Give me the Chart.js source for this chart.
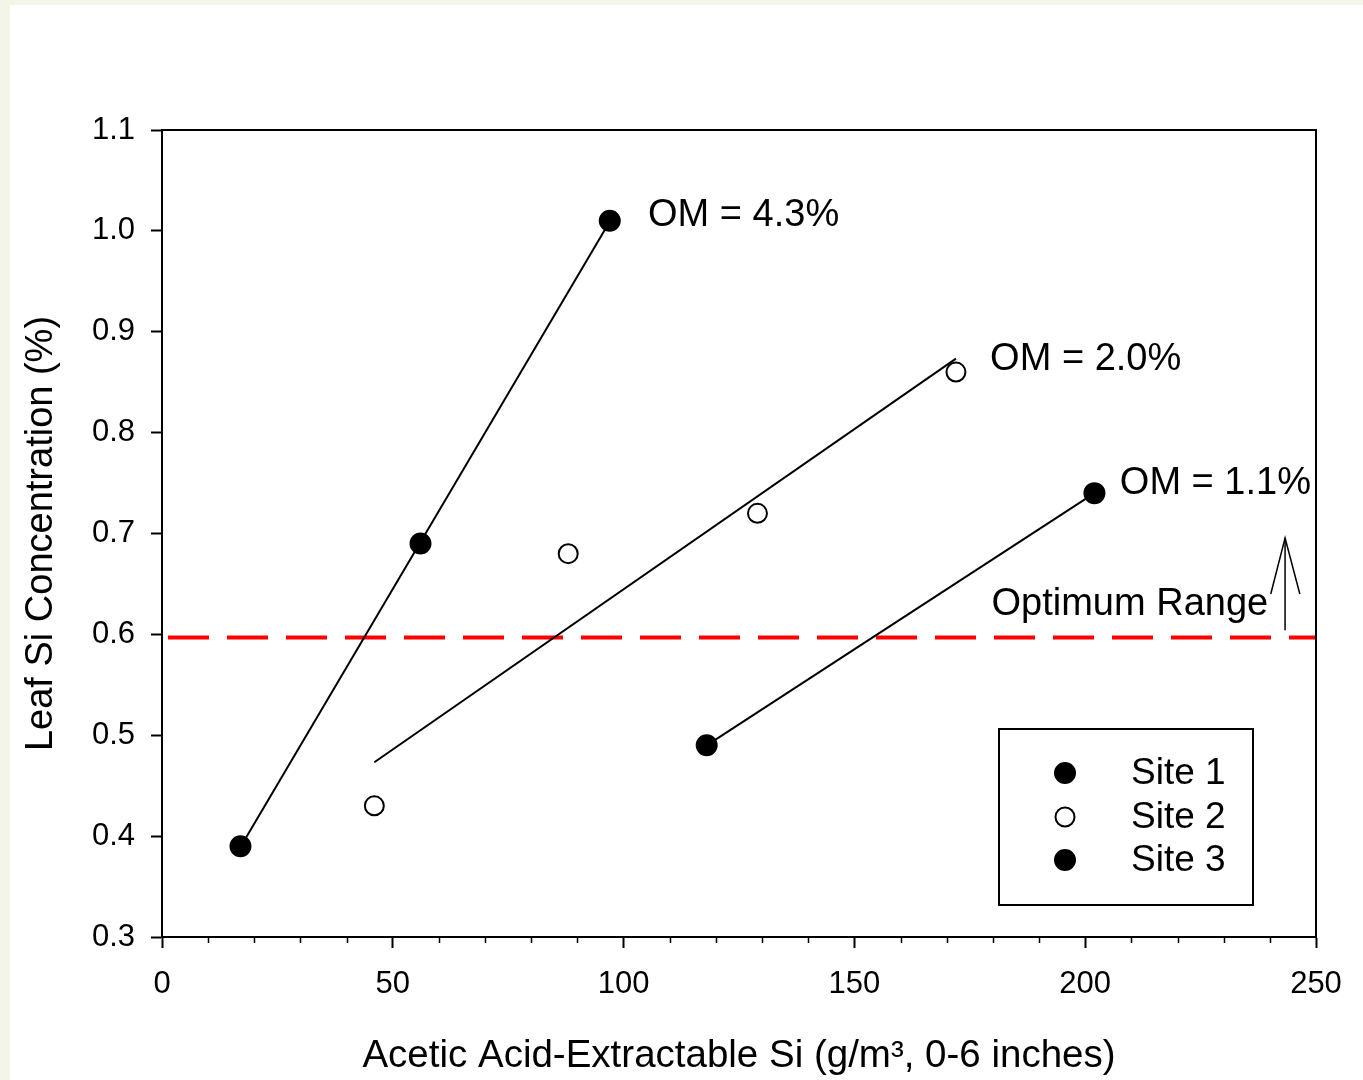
<!DOCTYPE html>
<html>
<head>
<meta charset="utf-8">
<script src="https://cdn.jsdelivr.net/npm/chart.js@4.4.1/dist/chart.umd.min.js"></script>
<style>
  html, body { margin: 0; padding: 0; background: #f2f5e8; }
  #wrap { width: 1363px; height: 1080px; position: relative; }
</style>
</head>
<body>
<div id="wrap"><canvas id="siChart"></canvas></div>
<script>
// acetic acid-extractable Si (g/m3) and leaf Si (%) per site
const site1X = [17, 56, 97];
const site1Y = [0.39, 0.69, 1.01];
const site2X = [46, 88, 129, 172];
const site2Y = [0.43, 0.68, 0.72, 0.86];
const site3X = [118, 202];
const site3Y = [0.49, 0.74];

const siteLabels = ['Site 1', 'Site 2', 'Site 3'];
const omLabels = ['OM = 4.3%', 'OM = 2.0%', 'OM = 1.1%'];

// optimum leaf Si level and the arrow pointing up from it
const optimumY = 0.597;
const optimumX = [1.3, 250];
const arrowX = [243.3, 243.3];
const arrowY = [0.604, 0.6955];
const arrowHeadX = [240.2, 243.3, 246.5];
const arrowHeadY = [0.640, 0.6955, 0.640];

const xTicks = [0, 50, 100, 150, 200, 250];
const yTicks = [0.3, 0.4, 0.5, 0.6, 0.7, 0.8, 0.9, 1.0, 1.1];

function pts(xs, ys) {
  return xs.map((x, i) => ({x: x, y: ys[i]}));
}

// least squares line over the range of the points
function fitLine(xs, ys) {
  const n = xs.length;
  const mx = xs.reduce((a, b) => a + b, 0) / n;
  const my = ys.reduce((a, b) => a + b, 0) / n;
  let sxy = 0, sxx = 0;
  for (let i = 0; i < n; i++) {
    sxy += (xs[i] - mx) * (ys[i] - my);
    sxx += (xs[i] - mx) * (xs[i] - mx);
  }
  const b = sxy / sxx;
  const x0 = Math.min(...xs), x1 = Math.max(...xs);
  return [{x: x0, y: my + b * (x0 - mx)}, {x: x1, y: my + b * (x1 - mx)}];
}

const FONT = '"Liberation Sans", Arial, sans-serif';

function lineSet(data, color, width, dash) {
  return {
    data: data, showLine: true, borderColor: color, borderWidth: width,
    borderDash: dash || [], pointRadius: 0, pointHoverRadius: 0, fill: false
  };
}

function pointSet(label, data, fill, radius) {
  return {
    label: label, data: data, showLine: false,
    backgroundColor: fill, borderColor: '#000', borderWidth: 2,
    pointRadius: radius, pointHoverRadius: radius
  };
}

const pagePlugin = {
  id: 'page',
  beforeDraw(chart) {
    const ctx = chart.ctx;
    ctx.save();
    ctx.fillStyle = '#f2f5e8';
    ctx.fillRect(0, 0, chart.width, chart.height);
    ctx.fillStyle = '#ffffff';
    ctx.fillRect(10, 5, chart.width - 10, chart.height - 5);
    ctx.restore();
  }
};

const extrasPlugin = {
  id: 'extras',
  afterDraw(chart) {
    const ctx = chart.ctx;
    const a = chart.chartArea;
    const xs = chart.scales.x, ys = chart.scales.y;
    ctx.save();
    // frame
    ctx.strokeStyle = '#000';
    ctx.lineWidth = 2;
    ctx.strokeRect(a.left, a.top, a.right - a.left, a.bottom - a.top);
    // minor x ticks
    ctx.lineWidth = 1.5;
    for (let v = 10; v < 250; v += 10) {
      if (v % 50 === 0) continue;
      const px = Math.round(xs.getPixelForValue(v)) + 0.5;
      ctx.beginPath();
      ctx.moveTo(px, a.bottom);
      ctx.lineTo(px, a.bottom + 6);
      ctx.stroke();
    }
    // annotations
    ctx.fillStyle = '#000';
    ctx.font = '38px ' + FONT;
    ctx.textBaseline = 'middle';
    ctx.textAlign = 'left';
    const notes = [
      [omLabels[0], 105.3, 1.0152],
      [omLabels[1], 179.4, 0.8725],
      [omLabels[2], 207.5, 0.750],
      ['Optimum Range', 179.7, 0.6296]
    ];
    notes.forEach(n => {
      ctx.fillText(n[0], xs.getPixelForValue(n[1]), ys.getPixelForValue(n[2]));
    });
    // legend
    const bx = 999, by = 729, bw = 254, bh = 176;
    ctx.lineWidth = 2;
    ctx.strokeRect(bx, by, bw, bh);
    ctx.font = '37px ' + FONT;
    const rows = [774, 818, 861];
    siteLabels.forEach((lab, i) => {
      const ds = chart.data.datasets[i];
      ctx.beginPath();
      ctx.arc(1065, rows[i] - 1, ds.pointRadius, 0, Math.PI * 2);
      ctx.fillStyle = ds.backgroundColor;
      ctx.fill();
      ctx.lineWidth = 2;
      ctx.strokeStyle = '#000';
      ctx.stroke();
      ctx.fillStyle = '#000';
      ctx.fillText(lab, 1131, rows[i]);
    });
    ctx.restore();
  }
};

new Chart(document.getElementById('siChart'), {
  type: 'scatter',
  data: {
    datasets: [
      pointSet(siteLabels[0], pts(site1X, site1Y), '#000', 10),
      pointSet(siteLabels[1], pts(site2X, site2Y), '#fff', 9.5),
      pointSet(siteLabels[2], pts(site3X, site3Y), '#000', 10),
      lineSet(fitLine(site1X, site1Y), '#000', 2),
      lineSet(fitLine(site2X, site2Y), '#000', 2),
      lineSet(fitLine(site3X, site3Y), '#000', 2),
      lineSet(pts(optimumX, optimumX.map(() => optimumY)), '#ff0000', 4, [41, 18]),
      lineSet(pts(arrowX, arrowY), '#000', 1.5),
      lineSet(pts(arrowHeadX, arrowHeadY), '#000', 1.5)
    ]
  },
  options: {
    responsive: true,
    maintainAspectRatio: false,
    animation: false,
    layout: { padding: { left: 0, top: 130, right: 47, bottom: 0 } },
    plugins: { legend: { display: false }, tooltip: { enabled: false } },
    scales: {
      x: {
        type: 'linear', min: 0, max: 250,
        afterFit(s) { s.height = 143; },
        afterBuildTicks(s) { s.ticks = xTicks.map(v => ({value: v})); },
        ticks: { color: '#000', font: { family: FONT, size: 31 }, padding: 18,
                 maxRotation: 0, autoSkip: false },
        grid: { drawOnChartArea: false, drawTicks: true, tickLength: 11,
                tickWidth: 2, tickColor: '#000' },
        border: { display: true, color: '#000', width: 2 },
        title: { display: true, text: 'Acetic Acid-Extractable Si (g/m³, 0-6 inches)',
                 color: '#000', font: { family: FONT, size: 38.5 }, padding: { top: 0, bottom: 1 } }
      },
      y: {
        type: 'linear', min: 0.3, max: 1.1,
        afterFit(s) { s.width = 162; },
        afterBuildTicks(s) { s.ticks = yTicks.map(v => ({value: v})); },
        ticks: { color: '#000', font: { family: FONT, size: 31 }, padding: 16,
                 callback: v => v.toFixed(1), autoSkip: false },
        grid: { drawOnChartArea: false, drawTicks: true, tickLength: 11,
                tickWidth: 2, tickColor: '#000' },
        border: { display: true, color: '#000', width: 2 },
        title: { display: true, text: 'Leaf Si Concentration (%)',
                 color: '#000', font: { family: FONT, size: 38 }, padding: { top: 19, bottom: 0 } }
      }
    }
  },
  plugins: [pagePlugin, extrasPlugin]
});
</script>
</body>
</html>
